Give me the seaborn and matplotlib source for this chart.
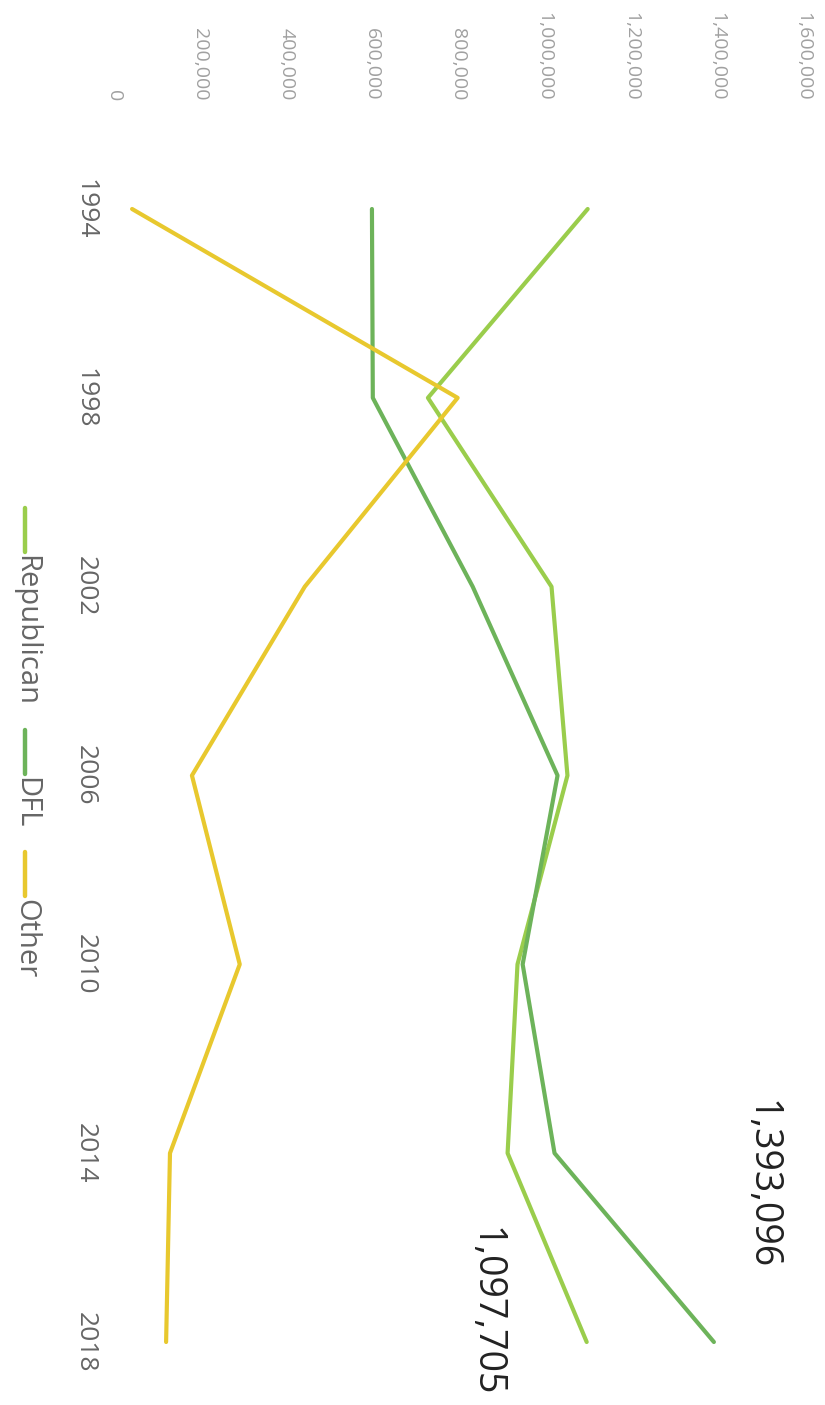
import numpy as np
import pandas as pd
import matplotlib
matplotlib.use('Agg')
import matplotlib.pyplot as plt
from matplotlib.lines import Line2D
import seaborn as sns

# Datos (votos por partido, gobernador de Minnesota)
years = [1994, 1998, 2002, 2006, 2010, 2014, 2018]
republican = [1100000, 729000, 1016000, 1053000, 937000, 914000, 1097705]
dfl = [599000, 601000, 833000, 1030000, 949000, 1023000, 1393096]
other = [42000, 798000, 443000, 181000, 292000, 130000, 121000]
parties = ['Republican', 'DFL', 'Other']
colores = ['#9acd4c', '#6db35a', '#e8c82e']
value_ticks = [0, 200000, 400000, 600000, 800000, 1000000, 1200000, 1400000, 1600000]

df = pd.DataFrame({
    'Año': years * 3,
    'Votos': republican + dfl + other,
    'Partido': [p for p in parties for _ in years],
})

sns.set_style('white')
plt.rcParams['font.family'] = ['Open Sans', 'DejaVu Sans']

W, H = 825, 1405
fig = plt.figure(figsize=(W / 100, H / 100), dpi=100)

# el grafico esta girado 90 grados: años hacia abajo, votos hacia la derecha
ax_top, ax_bot = 105, 1400
ax = fig.add_axes([114 / W, 1 - ax_bot / H, 689 / W, (ax_bot - ax_top) / H])
sns.lineplot(data=df, x='Votos', y='Año', hue='Partido', palette=colores,
             orient='y', estimator=None, linewidth=3, legend=False, ax=ax)

ppy = (1342 - 209) / 24
ax.set_ylim(2018 + (ax_bot - 1342) / ppy, 1994 - (209 - ax_top) / ppy)
ax.set_xlim(0, 1600000)

ax.xaxis.tick_top()
ax.set_xticks(value_ticks)
ax.set_xticklabels([f'{v:,}' for v in value_ticks], rotation=-90,
                   color='#a0a0a0', fontsize=14)
ax.set_yticks(years)
ax.set_yticklabels([str(y) for y in years], rotation=-90, va='center',
                   color='#666666', fontsize=19)
ax.tick_params(axis='x', length=0, pad=3)
ax.tick_params(axis='y', length=0, pad=12)
ax.set_xlabel('')
ax.set_ylabel('')
for s in ax.spines.values():
    s.set_visible(False)

# etiquetas de los valores finales
ax.annotate(f'{dfl[-1]:,}', xy=(dfl[-1], years[-1]), xytext=(34, 113),
            textcoords='offset points', rotation=-90, ha='center', va='center',
            fontsize=27, color='#222222')
ax.annotate(f'{republican[-1]:,}', xy=(republican[-1], years[-1]), xytext=(-73, 22),
            textcoords='offset points', rotation=-90, ha='center', va='center',
            fontsize=27, color='#222222')

# leyenda (girada)
renderer = fig.canvas.get_renderer()
y = 508
for nombre, c in zip(parties, colores):
    fig.add_artist(Line2D([25 / W, 25 / W], [1 - y / H, 1 - (y + 44) / H],
                          color=c, linewidth=3.2, transform=fig.transFigure))
    t = fig.text(26 / W, 1 - (y + 47) / H, nombre, rotation=-90, ha='center',
                 va='top', fontsize=21, color='#666666')
    ext = t.get_window_extent(renderer)
    y = H - ext.y0 + 24

fig.savefig('out.png', dpi=100)
